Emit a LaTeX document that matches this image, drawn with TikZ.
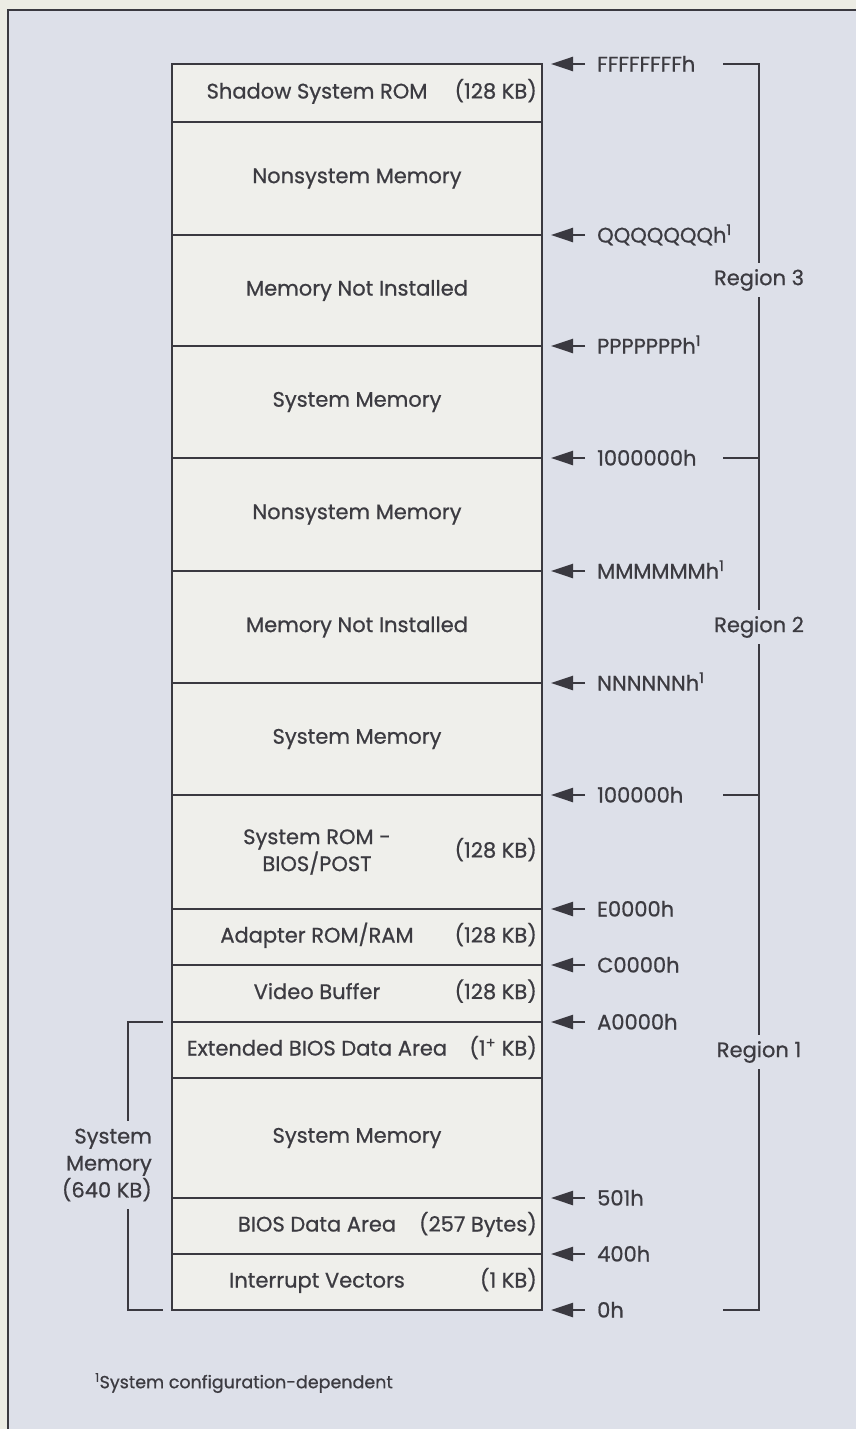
\documentclass[tikz,border=0pt]{standalone}
\usepackage{fontspec}
\setmainfont{Poppins}[UprightFeatures={FakeBold=0.7}]
\usepackage{tikz}
\usetikzlibrary{arrows.meta,positioning,calc}
\definecolor{colPage}  {HTML}{ECECE4}
\definecolor{colPanel} {HTML}{DDE0E9}
\definecolor{colBox}   {HTML}{EFEFEB}
\definecolor{colLine}  {HTML}{3A3940}
\definecolor{colText}  {HTML}{3C3B41}
\newcommand{\memfont}{\fontsize{21}{27}\selectfont}
\tikzset{
  memblock/.style={
    draw=colLine, fill=colBox, line width=1.4pt,
    minimum width=370pt, inner sep=0pt, outer sep=0pt,
    align=center, font=\memfont
  },
  memname/.style ={font=\memfont, inner sep=0pt, text height=15pt, text depth=4pt},
  memname2/.style={font=\memfont, inner sep=0pt, align=center},
  memsize/.style ={font=\memfont, inner sep=0pt, anchor=east, text height=15pt, text depth=4pt},
  addr/.style    ={font=\memfont, inner sep=0pt, text height=15pt, text depth=0pt},
  addrarr/.style ={
    -{Triangle[length=22pt,width=14pt,fill=colLine]},
    line width=2.4pt, color=colLine, shorten <=12pt, shorten >=9pt
  },
  bracket/.style ={draw=colLine, line width=1.6pt},
  region/.style  ={fill=colPanel, font=\memfont, inner xsep=3pt, inner ysep=6pt},
  note/.style    ={font=\fontsize{17.5}{22}\selectfont, inner sep=0pt, anchor=west}
}

\begin{document}
\begin{tikzpicture}[
      x=1pt, y=-1pt,
      every node/.style={text=colText}
  ]
    % page and panel
    \useasboundingbox (0,0) rectangle (856,1429);
    \fill[colPage] (0,0) rectangle (856,1429);
    \fill[colPanel] (8,10) rectangle (856,1429);
    \draw[colLine, line width=1.3pt] (8,1429) -- (8,10) -- (856,10);

    % memory map, top to bottom
    \node[memblock, minimum height=58pt, anchor=north] (shadowrom) at (357,64) {};
    \node[memblock, minimum height=113pt, below=0pt of shadowrom] (nonsysC) {Nonsystem Memory};
    \node[memblock, minimum height=111pt, below=0pt of nonsysC] (notinstC) {Memory Not Installed};
    \node[memblock, minimum height=112pt, below=0pt of notinstC] (sysmemC) {System Memory};
    \node[memblock, minimum height=113pt, below=0pt of sysmemC] (nonsysB) {Nonsystem Memory};
    \node[memblock, minimum height=112pt, below=0pt of nonsysB] (notinstB) {Memory Not Installed};
    \node[memblock, minimum height=112pt, below=0pt of notinstB] (sysmemB) {System Memory};
    \node[memblock, minimum height=114pt, below=0pt of sysmemB] (sysrom) {};
    \node[memblock, minimum height=56pt, below=0pt of sysrom] (adapter) {};
    \node[memblock, minimum height=57pt, below=0pt of adapter] (video) {};
    \node[memblock, minimum height=56pt, below=0pt of video] (ebda) {};
    \node[memblock, minimum height=120pt, below=0pt of ebda] (sysmemA) {System Memory};
    \node[memblock, minimum height=56pt, below=0pt of sysmemA] (bda) {};
    \node[memblock, minimum height=56pt, below=0pt of bda] (ivt) {};

    % names and sizes
    \node[memname] (shadowromN) at ([xshift=-40pt]shadowrom.center) {Shadow System ROM};
    \node[memsize] (shadowromS) at ([xshift=-5pt]shadowrom.east) {(128 KB)};
    \node[memname2] (sysromN) at ([xshift=-40pt]sysrom.center) {System ROM -\\BIOS/POST};
    \node[memsize] (sysromS) at ([xshift=-5pt]sysrom.east) {(128 KB)};
    \node[memname] (adapterN) at ([xshift=-40pt]adapter.center) {Adapter ROM/RAM};
    \node[memsize] (adapterS) at ([xshift=-5pt]adapter.east) {(128 KB)};
    \node[memname] (videoN) at ([xshift=-40pt]video.center) {Video Buffer};
    \node[memsize] (videoS) at ([xshift=-5pt]video.east) {(128 KB)};
    \node[memname] (ebdaN) at ([xshift=-40pt]ebda.center) {Extended BIOS Data Area};
    \node[memsize] (ebdaS) at ([xshift=-5pt]ebda.east) {(1\textsuperscript{+} KB)};
    \node[memname] (bdaN) at ([xshift=-40pt]bda.center) {BIOS Data Area};
    \node[memsize] (bdaS) at ([xshift=-5pt]bda.east) {(257 Bytes)};
    \node[memname] (ivtN) at ([xshift=-40pt]ivt.center) {Interrupt Vectors};
    \node[memsize] (ivtS) at ([xshift=-5pt]ivt.east) {(1 KB)};

    % addresses
    \node[addr, right=55pt of shadowrom.north east] (adrF) {FFFFFFFFh};
    \node[addr, right=55pt of nonsysC.south east] (adrQ) {QQQQQQQh\textsuperscript{1}};
    \node[addr, right=55pt of notinstC.south east] (adrP) {PPPPPPPh\textsuperscript{1}};
    \node[addr, right=55pt of sysmemC.south east] (adrMeg) {1000000h};
    \node[addr, right=55pt of nonsysB.south east] (adrM) {MMMMMMh\textsuperscript{1}};
    \node[addr, right=55pt of notinstB.south east] (adrN) {NNNNNNh\textsuperscript{1}};
    \node[addr, right=55pt of sysmemB.south east] (adrHi) {100000h};
    \node[addr, right=55pt of sysrom.south east] (adrE) {E0000h};
    \node[addr, right=55pt of adapter.south east] (adrC) {C0000h};
    \node[addr, right=55pt of video.south east] (adrA) {A0000h};
    \node[addr, right=55pt of sysmemA.south east] (adr501) {501h};
    \node[addr, right=55pt of bda.south east] (adr400) {400h};
    \node[addr, right=55pt of ivt.south east] (adr0) {0h};

    \foreach \a/\b in {adrF/shadowrom, adrQ/nonsysC, adrP/notinstC, adrMeg/sysmemC,
                       adrM/nonsysB, adrN/notinstB, adrHi/sysmemB, adrE/sysrom,
                       adrC/adapter, adrA/video, adr501/sysmemA, adr400/bda, adr0/ivt}
      \draw[addrarr] (\a.west) -- (\a.west -| \b.east);

    % region bracket
    \coordinate (brR) at (759,0);
    \coordinate (stubR) at (723,0);
    \draw[bracket] (shadowrom.north -| stubR) -- (shadowrom.north -| brR)
                -- (ivt.south -| brR) -- (ivt.south -| stubR);
    \draw[bracket] (sysmemC.south -| stubR) -- (sysmemC.south -| brR);
    \draw[bracket] (sysmemB.south -| stubR) -- (sysmemB.south -| brR);
    \node[region] (regC) at (759,280) {Region 3};
    \node[region] (regB) at (759,627) {Region 2};
    \node[region] (regA) at (759,1052) {Region 1};

    % system memory bracket
    \coordinate (brL) at (128,0);
    \draw[bracket] ([xshift=-9pt]ebda.north west) -- (ebda.north west -| brL)
                -- (ivt.south west -| brL) -- ([xshift=-9pt]ivt.south west);
    \node[region, align=right, anchor=east, inner ysep=8pt] (sysmemL) at (155,1165) {System\\Memory\\(640 KB)};

    % footnote
    \node[note] (fnote) at (95,1383) {\textsuperscript{1}System configuration-dependent};
\end{tikzpicture}
\end{document}
